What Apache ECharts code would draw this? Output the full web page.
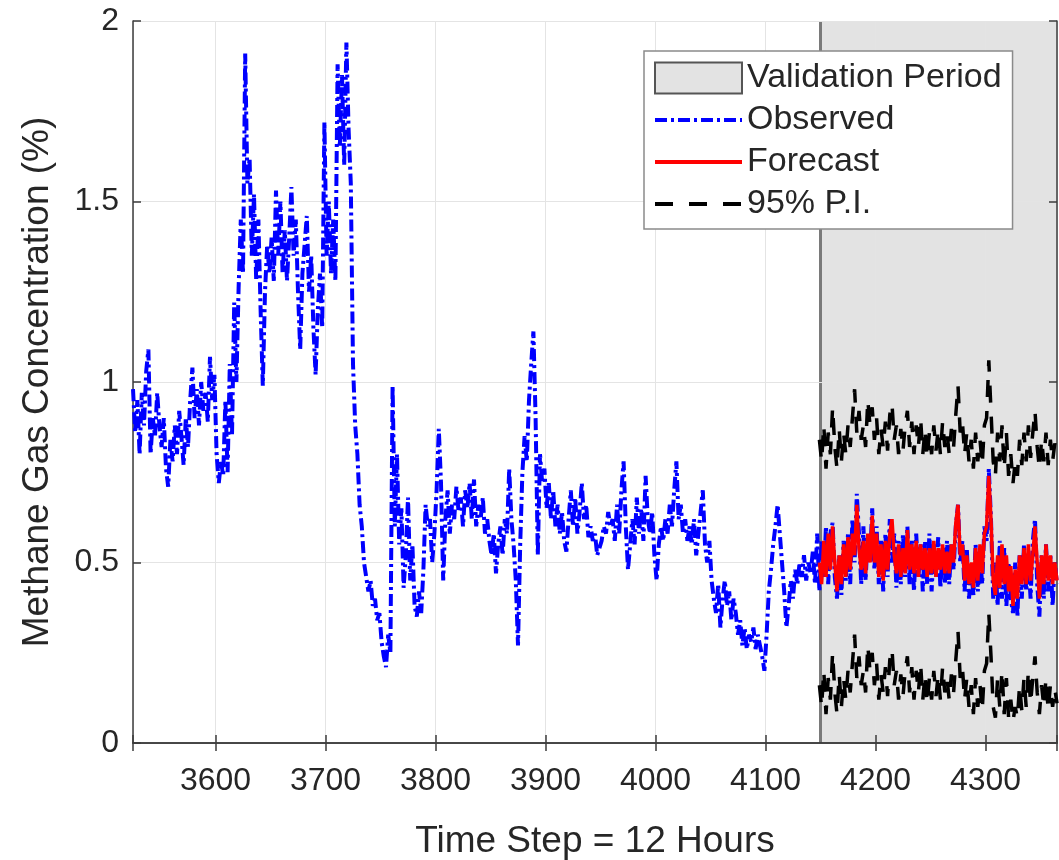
<!DOCTYPE html>
<html><head><meta charset="utf-8">
<script src="https://cdn.jsdelivr.net/npm/echarts@6/dist/echarts.min.js"></script>
<style>html,body{margin:0;padding:0;background:#fff}#c{width:1059px;height:860px}</style>
</head><body><div id="c"></div>
<script>
const xTitle = 'Time Step = 12 Hours';
const yTitle = 'Methane Gas Concentration (%)';
const xRange = [3525, 4365];
const yRange = [0, 2];
const yInterval = 0.5;
const validationPeriod = [4150, 4365];
const legendNames = ['Validation Period', 'Observed', 'Forecast', '95% P.I.'];

// Observed: one value every 2 time steps, starting at 3525
const obsStart = 3525, obsStep = 2;
const observed = [
  0.98,0.86,0.95,0.80,0.97,0.88,1.03,1.09,0.80,0.90,
  0.85,0.97,0.88,0.82,0.90,0.76,0.71,0.84,0.78,0.88,
  0.80,0.92,0.85,0.77,0.90,0.82,0.95,1.04,0.90,0.98,
  0.88,1.00,0.92,0.97,0.89,1.07,0.95,1.02,0.80,0.72,
  0.78,0.74,0.95,0.75,1.05,0.85,1.22,1.00,1.26,1.45,
  1.30,1.91,1.55,1.62,1.35,1.52,1.28,1.45,1.20,0.99,
  1.25,1.38,1.30,1.40,1.28,1.53,1.35,1.50,1.30,1.42,
  1.28,1.40,1.54,1.35,1.45,1.25,1.09,1.30,1.38,1.46,
  1.25,1.35,1.15,1.02,1.20,1.30,1.15,1.72,1.35,1.50,
  1.30,1.45,1.28,1.88,1.65,1.85,1.60,1.94,1.70,1.55,
  1.05,0.88,0.80,0.66,0.60,0.50,0.46,0.42,0.45,0.38,
  0.40,0.34,0.36,0.28,0.24,0.21,0.30,0.25,0.99,0.60,
  0.80,0.55,0.65,0.43,0.52,0.68,0.45,0.55,0.38,0.35,
  0.42,0.36,0.48,0.66,0.60,0.62,0.50,0.58,0.70,0.87,
  0.72,0.45,0.62,0.70,0.58,0.66,0.62,0.71,0.64,0.68,
  0.60,0.70,0.65,0.72,0.62,0.73,0.60,0.66,0.62,0.68,
  0.58,0.62,0.56,0.52,0.58,0.47,0.55,0.60,0.52,0.62,
  0.58,0.76,0.62,0.55,0.45,0.27,0.55,0.75,0.85,0.78,
  0.95,1.05,1.14,0.90,0.52,0.80,0.72,0.76,0.65,0.72,
  0.62,0.70,0.60,0.66,0.58,0.64,0.56,0.53,0.62,0.70,
  0.60,0.68,0.58,0.64,0.72,0.62,0.66,0.57,0.60,0.56,
  0.58,0.52,0.54,0.56,0.60,0.58,0.64,0.60,0.62,0.56,
  0.66,0.58,0.70,0.78,0.60,0.48,0.55,0.62,0.55,0.68,
  0.58,0.65,0.56,0.74,0.62,0.58,0.64,0.52,0.45,0.55,
  0.60,0.56,0.62,0.58,0.66,0.60,0.70,0.78,0.62,0.66,
  0.58,0.62,0.56,0.60,0.55,0.62,0.52,0.58,0.64,0.70,
  0.55,0.50,0.56,0.45,0.40,0.36,0.44,0.32,0.40,0.45,
  0.38,0.42,0.34,0.40,0.36,0.30,0.34,0.27,0.32,0.26,
  0.30,0.28,0.32,0.26,0.30,0.27,0.24,0.20,0.30,0.42,
  0.48,0.55,0.60,0.66,0.58,0.50,0.42,0.32,0.38,0.45,
  0.40,0.48,0.44,0.50,0.46,0.52,0.45,0.50,0.47,0.53,
  0.44,0.58,0.42,0.56,0.46,0.60,0.44,0.58,0.61,0.46,
  0.40,0.52,0.41,0.56,0.45,0.58,0.44,0.62,0.50,0.69,
  0.58,0.44,0.60,0.45,0.58,0.50,0.65,0.48,0.60,0.44,
  0.56,0.42,0.58,0.46,0.62,0.50,0.58,0.43,0.56,0.44,
  0.58,0.46,0.60,0.44,0.56,0.42,0.58,0.46,0.55,0.42,
  0.56,0.44,0.58,0.42,0.55,0.46,0.57,0.43,0.54,0.44,
  0.56,0.44,0.55,0.48,0.60,0.66,0.50,0.56,0.42,0.54,
  0.40,0.48,0.41,0.55,0.42,0.52,0.44,0.60,0.56,0.76,
  0.62,0.40,0.50,0.38,0.56,0.40,0.54,0.38,0.50,0.40,
  0.36,0.50,0.35,0.52,0.40,0.55,0.42,0.50,0.40,0.56,
  0.62,0.44,0.35,0.52,0.40,0.55,0.42,0.52,0.38,0.50,
  0.44
];

// Forecast and 95% prediction interval: one value every 2 time steps, starting at 4149
const fcStart = 4149, fcStep = 2;
const forecast = [
  0.50,0.44,0.56,0.46,0.58,0.48,0.60,0.50,0.42,0.52,
  0.44,0.55,0.46,0.57,0.48,0.58,0.52,0.66,0.54,0.48,
  0.56,0.47,0.58,0.50,0.63,0.50,0.58,0.46,0.55,0.45,
  0.56,0.48,0.58,0.62,0.52,0.47,0.55,0.46,0.54,0.47,
  0.59,0.48,0.55,0.47,0.56,0.46,0.55,0.48,0.54,0.46,
  0.54,0.47,0.56,0.46,0.54,0.48,0.55,0.47,0.53,0.47,
  0.55,0.50,0.61,0.66,0.52,0.55,0.45,0.52,0.44,0.50,
  0.43,0.54,0.45,0.55,0.47,0.58,0.60,0.74,0.62,0.45,
  0.41,0.52,0.43,0.55,0.44,0.52,0.42,0.49,0.38,0.48,
  0.40,0.52,0.44,0.54,0.44,0.55,0.45,0.52,0.60,0.50,
  0.40,0.52,0.44,0.55,0.45,0.52,0.44,0.50,0.45
];
const piUpper = [
  0.84,0.78,0.88,0.76,0.86,0.80,0.93,0.82,0.76,0.87,
  0.78,0.86,0.80,0.88,0.82,0.90,0.98,0.86,0.92,0.84,
  0.88,0.82,0.95,0.88,0.93,0.84,0.90,0.80,0.87,0.82,
  0.89,0.81,0.91,0.94,0.84,0.88,0.80,0.87,0.81,0.88,
  0.92,0.82,0.89,0.80,0.88,0.82,0.90,0.80,0.87,0.79,
  0.86,0.80,0.88,0.81,0.87,0.80,0.89,0.82,0.86,0.80,
  0.87,0.82,0.91,0.99,0.86,0.89,0.80,0.86,0.78,0.84,
  0.76,0.86,0.78,0.84,0.77,0.88,0.90,1.06,0.92,0.78,
  0.74,0.86,0.78,0.88,0.76,0.86,0.74,0.80,0.72,0.78,
  0.74,0.84,0.77,0.86,0.78,0.88,0.79,0.86,0.92,0.82,
  0.76,0.84,0.78,0.86,0.77,0.84,0.78,0.83,0.79
];
const piLower = [
  0.16,0.10,0.20,0.08,0.18,0.12,0.25,0.14,0.08,0.19,
  0.10,0.18,0.12,0.20,0.14,0.22,0.30,0.18,0.24,0.16,
  0.20,0.14,0.27,0.20,0.25,0.16,0.22,0.12,0.19,0.14,
  0.21,0.13,0.23,0.26,0.16,0.20,0.12,0.19,0.13,0.20,
  0.24,0.14,0.21,0.12,0.20,0.14,0.22,0.12,0.19,0.11,
  0.18,0.12,0.20,0.13,0.19,0.12,0.21,0.14,0.18,0.12,
  0.19,0.14,0.23,0.31,0.18,0.21,0.12,0.18,0.10,0.16,
  0.08,0.18,0.10,0.16,0.09,0.20,0.22,0.36,0.24,0.10,
  0.07,0.18,0.10,0.20,0.08,0.18,0.07,0.12,0.06,0.10,
  0.07,0.16,0.09,0.18,0.10,0.20,0.11,0.18,0.24,0.14,
  0.08,0.16,0.10,0.18,0.09,0.16,0.10,0.15,0.11
];

const toPairs = (start, step, arr) => arr.map((v, i) => [start + i * step, v]);

const FONT = "'Liberation Sans', Arial, Helvetica, sans-serif";
const TXT = '#262626';
const AX = '#3c3c3c';
const HIDE_SYMBOL = {opacity: 0};

const chart = echarts.init(document.getElementById('c'), null, {renderer: 'canvas'});

const xBase = {
  type: 'value', min: xRange[0], max: xRange[1], splitNumber: 8,
  axisLine: {show: true, lineStyle: {color: AX, width: 1.5}},
  axisTick: {show: true, inside: true, length: 8, lineStyle: {color: AX, width: 1.5}},
  z: 1
};
const yBase = {
  type: 'value', min: yRange[0], max: yRange[1], interval: yInterval,
  axisLine: {show: true, lineStyle: {color: AX, width: 1.5}},
  axisTick: {show: true, inside: true, length: 8, lineStyle: {color: AX, width: 1.5}},
  z: 1
};

chart.setOption({
  animation: false,
  backgroundColor: '#ffffff',
  textStyle: {fontFamily: FONT},
  grid: {left: 133, right: 2, top: 21, bottom: 117, containLabel: false, outerBoundsMode: 'none'},
  legend: {
    left: 644, top: 51, orient: 'vertical',
    itemWidth: 87, itemHeight: 31, itemGap: 8,
    padding: [10, 11, 8, 9],
    backgroundColor: '#ffffff', borderColor: '#8a8a8a', borderWidth: 1.5, borderRadius: 0,
    textStyle: {fontSize: 34, color: TXT, fontFamily: FONT},
    data: [
      {name: legendNames[0], icon: 'rect', itemStyle: {color: '#e3e3e3', borderColor: '#555555', borderWidth: 2}},
      {name: legendNames[1], itemStyle: HIDE_SYMBOL, lineStyle: {width: 4, color: '#0000ff', type: [12, 4, 3, 4]}},
      {name: legendNames[2], itemStyle: HIDE_SYMBOL, lineStyle: {width: 4, color: '#ff0000'}},
      {name: legendNames[3], itemStyle: HIDE_SYMBOL, lineStyle: {width: 4, color: '#000000', type: [18, 16]}}
    ]
  },
  xAxis: [
    Object.assign({}, xBase, {
      position: 'bottom',
      name: xTitle, nameLocation: 'middle', nameGap: 80,
      nameTextStyle: {fontSize: 37, color: TXT, fontFamily: FONT},
      axisLabel: {show: true, fontSize: 32, color: TXT, margin: 22, fontFamily: FONT,
        formatter: v => (v % 100 === 0 ? String(v) : '')},
      splitLine: {show: true, lineStyle: {color: '#e4e4e4', width: 1}}
    }),
    Object.assign({}, xBase, {
      position: 'top',
      axisLabel: {show: false},
      splitLine: {show: false}
    })
  ],
  yAxis: [
    Object.assign({}, yBase, {
      position: 'left',
      name: yTitle, nameLocation: 'middle', nameGap: 77, nameRotate: 90,
      nameTextStyle: {fontSize: 37, color: TXT, fontFamily: FONT},
      axisLabel: {show: true, fontSize: 32, color: TXT, margin: 14, fontFamily: FONT},
      splitLine: {show: true, lineStyle: {color: '#e4e4e4', width: 1}}
    }),
    Object.assign({}, yBase, {
      position: 'right',
      axisLabel: {show: false},
      splitLine: {show: false}
    })
  ],
  series: [
    {
      name: legendNames[0], type: 'custom', z: 0,
      xAxisIndex: 0, yAxisIndex: 0,
      itemStyle: {color: '#e3e3e3', borderColor: '#555555', borderWidth: 2},
      encode: {x: [0, 1], y: [2, 3]},
      data: [[validationPeriod[0], validationPeriod[1], yRange[0], yRange[1]]],
      renderItem: (params, api) => {
        const a = api.coord([api.value(0), api.value(3)]);
        const b = api.coord([api.value(1), api.value(2)]);
        return {
          type: 'group',
          children: [
            {type: 'rect', shape: {x: a[0], y: a[1], width: b[0] - a[0], height: b[1] - a[1]},
             style: {fill: '#e3e3e3'}},
            {type: 'line', shape: {x1: a[0], y1: a[1], x2: a[0], y2: b[1]},
             style: {stroke: '#7a7a7a', lineWidth: 3}}
          ]
        };
      }
    },
    {
      name: legendNames[1], type: 'line', z: 2, symbol: 'none', showSymbol: false,
      data: toPairs(obsStart, obsStep, observed),
      itemStyle: {color: '#0000ff'},
      lineStyle: {color: '#0000ff', width: 4, type: [12, 4, 3, 4]}
    },
    {
      name: legendNames[2], type: 'line', z: 3, symbol: 'none', showSymbol: false,
      data: toPairs(fcStart, fcStep, forecast),
      itemStyle: {color: '#ff0000'},
      lineStyle: {color: '#ff0000', width: 3.5}
    },
    {
      name: legendNames[3], type: 'line', z: 4, symbol: 'none', showSymbol: false,
      data: toPairs(fcStart, fcStep, piUpper),
      itemStyle: {color: '#000000'},
      lineStyle: {color: '#000000', width: 3.5, type: [17, 14]}
    },
    {
      name: legendNames[3], type: 'line', z: 4, symbol: 'none', showSymbol: false,
      data: toPairs(fcStart, fcStep, piLower),
      itemStyle: {color: '#000000'},
      lineStyle: {color: '#000000', width: 3.5, type: [17, 14]}
    }
  ]
});
</script>
</body></html>
